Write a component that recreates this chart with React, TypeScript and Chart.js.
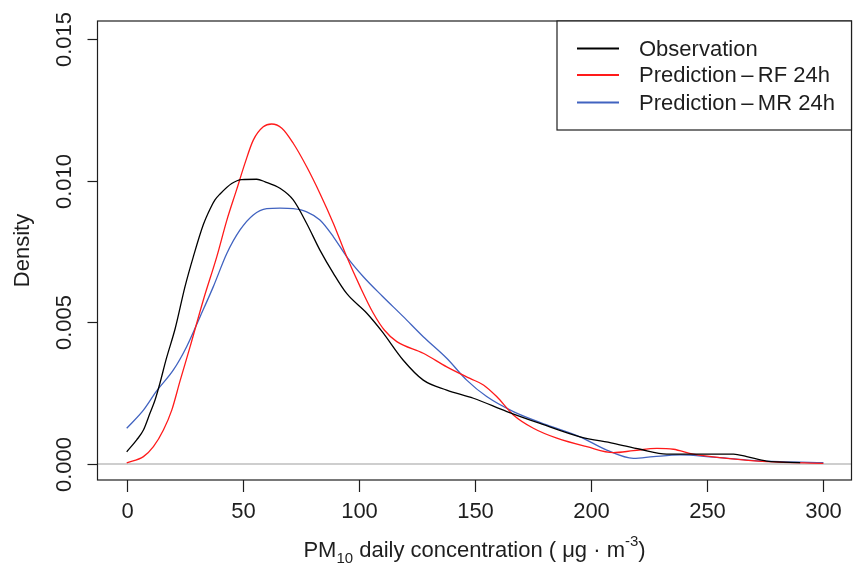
import React, { useEffect, useRef } from "react";
import { Chart, registerables } from "chart.js";

Chart.register(...registerables);

const xTicks = [0, 50, 100, 150, 200, 250, 300];
const yTicks = [0, 0.005, 0.01, 0.015];
const yTickLabels = ["0.000", "0.005", "0.010", "0.015"];
const seriesNames = ["Observation", "Prediction\u2009\u2013\u2009RF 24h", "Prediction\u2009\u2013\u2009MR 24h"];
const seriesColors = ["#000000", "#FF1A1A", "#4163C0"];

const obsX = [0, 4.3, 7.2, 10, 12.2, 14.3, 17, 20.9, 25.1, 28.7, 33, 35.9, 38, 40.2, 45.2, 49.5, 56, 59.6, 66, 71.7, 77.5, 83.2, 89, 94.7, 103.4, 110, 119, 127.7, 137.8, 149.3, 163.7, 178, 195.2, 209.6, 221.1, 232.5, 246.9, 261.3, 267, 275.6, 290];
const obsY = [0.00043, 0.00085, 0.0012, 0.00179, 0.00226, 0.00285, 0.0037, 0.00479, 0.00626, 0.00732, 0.00845, 0.009, 0.00932, 0.00953, 0.0099, 0.01004, 0.01005, 0.00996, 0.00973, 0.00932, 0.00849, 0.00755, 0.00673, 0.00602, 0.00532, 0.00467, 0.00367, 0.00296, 0.00261, 0.00232, 0.00185, 0.00143, 0.00096, 0.00073, 0.00052, 0.00035, 0.00035, 0.00035, 0.00026, 0.0001, 0.00005];

const rfX = [0, 7.2, 11.5, 15.8, 19.4, 23, 27.3, 33, 38.8, 43.1, 47.4, 50.9, 54.5, 58.8, 62.4, 66.8, 71.7, 77.5, 83.2, 89, 94.7, 100.5, 106.2, 111, 116.3, 127.7, 137.8, 147.8, 153.6, 159.3, 166.5, 175.1, 185.2, 198.1, 209.6, 218.2, 228.3, 235.4, 244, 258.4, 275.6, 300];
const rfY = [0.00004, 0.00026, 0.00061, 0.0012, 0.0019, 0.00294, 0.00414, 0.00579, 0.00732, 0.0086, 0.0097, 0.01061, 0.01143, 0.0119, 0.012, 0.01185, 0.01132, 0.01049, 0.00955, 0.00849, 0.00732, 0.00626, 0.00532, 0.00472, 0.00432, 0.00391, 0.00343, 0.00302, 0.00279, 0.00238, 0.00173, 0.00126, 0.00091, 0.00061, 0.0004, 0.00047, 0.00055, 0.00052, 0.00035, 0.0002, 0.00008, 0.00002];

const mrX = [0, 7.2, 12.9, 20.1, 25.8, 31.6, 37.3, 43.1, 48.8, 54.5, 60.3, 66, 71.7, 77.5, 83.2, 89, 94.7, 101.9, 110, 119.1, 127.7, 137.8, 146.4, 155, 166.5, 180.9, 195.2, 206.7, 218.2, 226.8, 238.3, 252.6, 267, 281.4, 300];
const mrY = [0.00126, 0.0019, 0.00258, 0.00332, 0.00414, 0.0052, 0.00626, 0.00743, 0.00826, 0.00879, 0.00901, 0.00903, 0.00901, 0.0089, 0.00861, 0.00802, 0.00732, 0.00661, 0.00593, 0.0052, 0.00449, 0.00373, 0.00296, 0.00238, 0.00185, 0.00138, 0.00096, 0.00049, 0.0002, 0.00026, 0.00032, 0.00024, 0.00014, 0.00008, 0.00005];

const FONT = "22px 'Liberation Sans', Arial, sans-serif";
const SMALL = "15px 'Liberation Sans', Arial, sans-serif";
const INK = "#1e1e1e";

function pts(xs: number[], ys: number[]) {
  return xs.map((x, i) => ({ x, y: ys[i] }));
}

const rPlugin = {
  id: "rstyle",
  beforeDatasetsDraw(chart: any) {
    const { ctx, chartArea } = chart;
    const y0 = chart.scales.y.getPixelForValue(0);
    ctx.save();
    ctx.strokeStyle = "#BEBEBE";
    ctx.lineWidth = 1.5;
    ctx.beginPath();
    ctx.moveTo(chartArea.left, y0);
    ctx.lineTo(chartArea.right, y0);
    ctx.stroke();
    ctx.restore();
  },
  afterDraw(chart: any) {
    const { ctx, chartArea } = chart;
    const xs = chart.scales.x;
    const ys = chart.scales.y;
    ctx.save();
    ctx.strokeStyle = INK;
    ctx.lineWidth = 1.2;
    ctx.strokeRect(chartArea.left, chartArea.top, chartArea.right - chartArea.left, chartArea.bottom - chartArea.top);
    ctx.fillStyle = INK;
    ctx.font = FONT;
    ctx.textAlign = "center";
    ctx.textBaseline = "middle";
    xTicks.forEach((v) => {
      const px = Math.round(xs.getPixelForValue(v)) + 0.5;
      ctx.beginPath();
      ctx.moveTo(px, chartArea.bottom);
      ctx.lineTo(px, chartArea.bottom + 12);
      ctx.stroke();
      ctx.fillText(String(v), px, 512);
    });
    yTicks.forEach((v, i) => {
      const py = Math.round(ys.getPixelForValue(v)) + 0.5;
      ctx.beginPath();
      ctx.moveTo(chartArea.left - 10, py);
      ctx.lineTo(chartArea.left, py);
      ctx.stroke();
      ctx.save();
      ctx.translate(65, py);
      ctx.rotate(-Math.PI / 2);
      ctx.fillText(yTickLabels[i], 0, 0);
      ctx.restore();
    });
    ctx.save();
    ctx.translate(23, (chartArea.top + chartArea.bottom) / 2);
    ctx.rotate(-Math.PI / 2);
    ctx.fillText("Density", 0, 0);
    ctx.restore();
    const parts: { t: string; f: string; dy: number }[] = [
      { t: "PM", f: FONT, dy: 0 },
      { t: "10", f: SMALL, dy: 6 },
      { t: " daily concentration ( \u03bcg \u00b7 m", f: FONT, dy: 0 },
      { t: "-3", f: SMALL, dy: -11 },
      { t: ")", f: FONT, dy: 0 },
    ];
    let total = 0;
    parts.forEach((p) => {
      ctx.font = p.f;
      total += ctx.measureText(p.t).width;
    });
    let cx = (chartArea.left + chartArea.right) / 2 - total / 2;
    ctx.textAlign = "left";
    ctx.textBaseline = "alphabetic";
    parts.forEach((p) => {
      ctx.font = p.f;
      ctx.fillText(p.t, cx, 557 + p.dy);
      cx += ctx.measureText(p.t).width;
    });
    const lx = 557, ly = chartArea.top, lw = chartArea.right - 557, lh = 109;
    ctx.fillStyle = "#ffffff";
    ctx.fillRect(lx, ly, lw, lh);
    ctx.strokeStyle = INK;
    ctx.lineWidth = 1.2;
    ctx.strokeRect(lx, ly, lw, lh);
    ctx.font = FONT;
    ctx.textBaseline = "middle";
    const rows = [48.5, 75, 102.5];
    seriesNames.forEach((name, i) => {
      ctx.strokeStyle = seriesColors[i];
      ctx.lineWidth = 2.2;
      ctx.beginPath();
      ctx.moveTo(577, rows[i]);
      ctx.lineTo(619, rows[i]);
      ctx.stroke();
      ctx.fillStyle = INK;
      ctx.fillText(name, 639, rows[i] + 1);
    });
    ctx.restore();
  },
};

export default function App() {
  const ref = useRef<HTMLCanvasElement | null>(null);
  useEffect(() => {
    if (!ref.current) return;
    const mk = (label: string, xsArr: number[], ysArr: number[], color: string) => ({
      label,
      data: pts(xsArr, ysArr),
      borderColor: color,
      borderWidth: 1.3,
      pointRadius: 0,
      fill: false,
      cubicInterpolationMode: "monotone" as const,
    });
    const chart = new Chart(ref.current, {
      type: "line",
      data: {
        datasets: [
          mk(seriesNames[0], obsX, obsY, seriesColors[0]),
          mk(seriesNames[1], rfX, rfY, seriesColors[1]),
          mk(seriesNames[2], mrX, mrY, seriesColors[2]),
        ],
      },
      options: {
        animation: false,
        responsive: false,
        maintainAspectRatio: false,
        layout: { padding: { left: 97.5, right: 7.5, top: 21, bottom: 86 } },
        scales: {
          x: { type: "linear", min: -12.58, max: 312.1, display: false },
          y: { type: "linear", min: -0.000565, max: 0.015635, display: false },
        },
        plugins: { legend: { display: false }, tooltip: { enabled: false } },
      },
      plugins: [rPlugin],
    });
    return () => chart.destroy();
  }, []);
  return (
    <div style={{ position: "fixed", left: 0, top: 0, width: 859, height: 566, background: "#ffffff" }}>
      <canvas ref={ref} width={859} height={566} style={{ width: 859, height: 566, display: "block" }} />
    </div>
  );
}
